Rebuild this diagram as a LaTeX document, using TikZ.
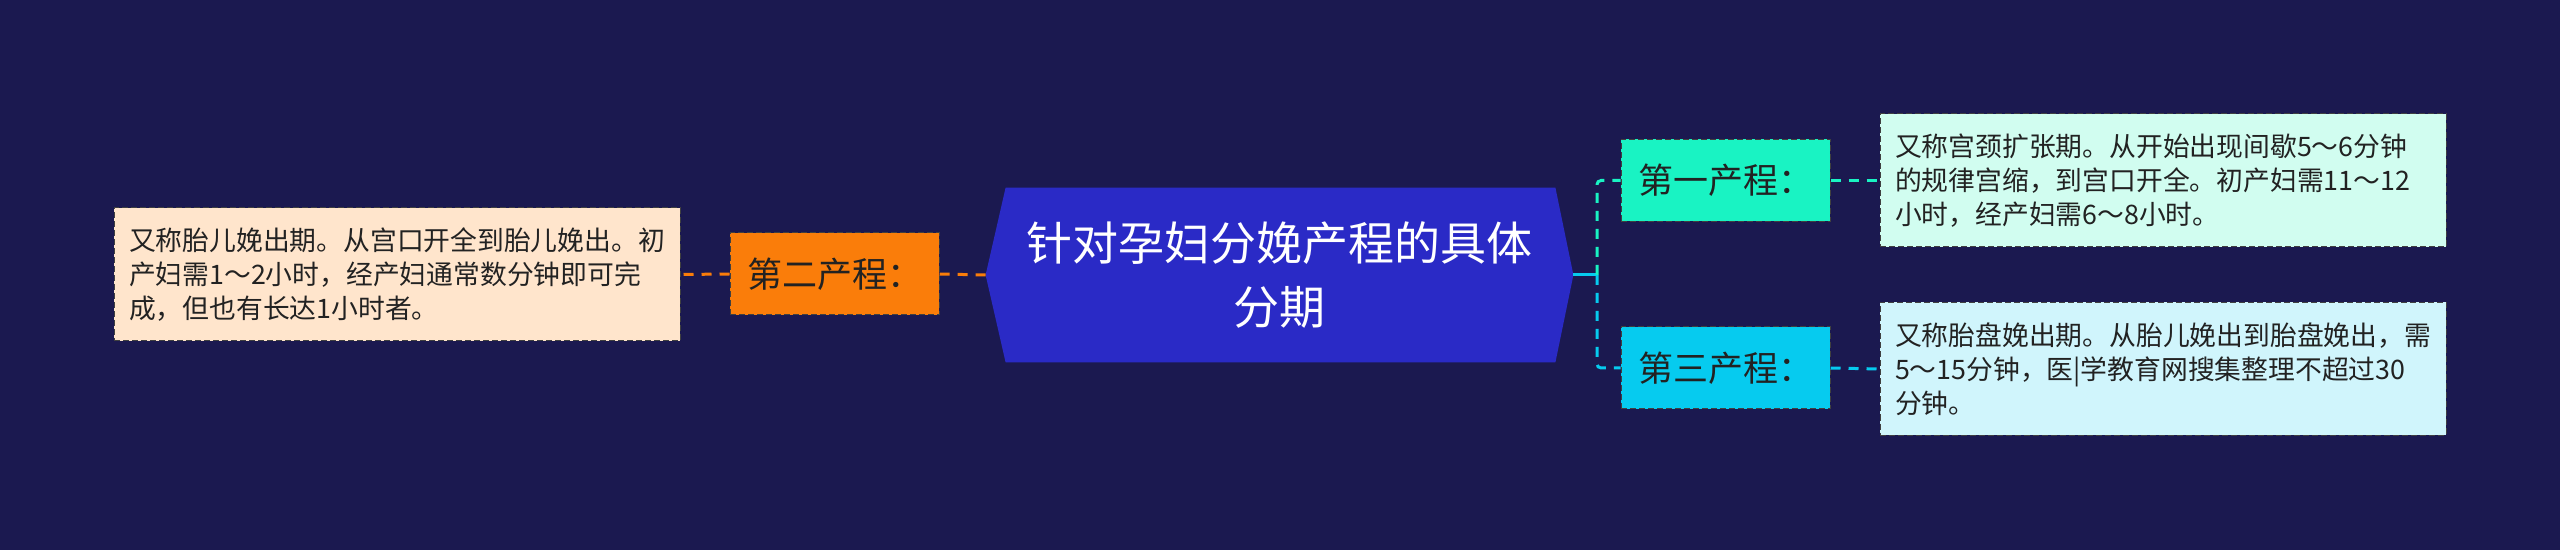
\documentclass[tikz,border=0pt]{standalone}
\usepackage{fontspec}
\setmainfont{Noto Sans CJK SC}
\definecolor{bgc}{HTML}{1B1950}
\definecolor{hexc}{HTML}{2A2AC6}
\definecolor{orc}{HTML}{FA7D0A}
\definecolor{peach}{HTML}{FFE5CC}
\definecolor{tealc}{HTML}{19F3C3}
\definecolor{cyanc}{HTML}{06CBEF}
\definecolor{mint}{HTML}{D1FDF0}
\definecolor{skyl}{HTML}{D0F5FC}
\definecolor{txt}{HTML}{222222}
\pgfdeclarelayer{bglayer}
\pgfdeclarelayer{midlayer}
\pgfsetlayers{bglayer,midlayer,main}
\tikzset{
  x=0.5pt, y=-0.5pt,
  box/.style={draw=black!75, dashed, dash pattern=on 3pt off 1.5pt, line width=0.5pt, inner sep=0pt, text=txt},
  label/.style={box, minimum width=104.5pt, minimum height=41pt, font=\fontsize{17.5pt}{20pt}\selectfont},
  body/.style={box, minimum width=283pt, minimum height=66.5pt, align=left, text width=268pt, font=\fontsize{13.4pt}{17pt}\selectfont},
  conn/.style={line width=1.5pt, dash pattern=on 5pt off 4pt},
}
\begin{document}
\begin{tikzpicture}
\begin{pgfonlayer}{bglayer}
\fill[bgc] (0,0) rectangle (2560,550);
\end{pgfonlayer}
\useasboundingbox (0,0) rectangle (2560,550);
% central node
\node[inner sep=0pt, minimum width=293.5pt, minimum height=87pt, text=white, align=center,
  font=\fontsize{23pt}{32pt}\selectfont] (c) at (1279.5,275) {针对孕妇分娩产程的具体\\分期};
\begin{pgfonlayer}{midlayer}
\fill[hexc] (c.west) -- ([xshift=10pt]c.north west) -- ([xshift=-9pt]c.north east) -- (c.east)
  -- ([xshift=-9pt]c.south east) -- ([xshift=10pt]c.south west) -- cycle;
\end{pgfonlayer}
% left side
\node[label, fill=orc] (o) at (834.5,274) {第二产程：};
\node[body, fill=peach] (l) at (397,274.5) {又称胎儿娩出期。从宫口开全到胎儿娩出。初\\产妇需1～2小时，经产妇通常数分钟即可完\\成，但也有长达1小时者。};
% right side
\node[label, fill=tealc] (g1) at (1725.5,180.5) {第一产程：};
\node[body, fill=mint] (t1) at (2163,180.5) {又称宫颈扩张期。从开始出现间歇5～6分钟\\的规律宫缩，到宫口开全。初产妇需11～12\\小时，经产妇需6～8小时。};
\node[label, fill=cyanc] (g3) at (1725.5,368) {第三产程：};
\node[body, fill=skyl] (t3) at (2163,369) {又称胎盘娩出期。从胎儿娩出到胎盘娩出，需\\5～15分钟，医|学教育网搜集整理不超过30\\分钟。};
\coordinate (j) at (1597,275);
% connectors
\draw[conn, orc] (c.west) -- (o.east);
\draw[conn, orc] (o.west) -- (l.east);
\draw[line width=1.5pt, cyanc] (c.east) -- (j);
\draw[conn, tealc, rounded corners=2pt] (j) |- (g1.west);
\draw[conn, cyanc, rounded corners=2pt] (j) |- (g3.west);
\draw[conn, tealc] (g1.east) -- (t1.west);
\draw[conn, cyanc] (g3.east) -- (t3.west);
\end{tikzpicture}
\end{document}
